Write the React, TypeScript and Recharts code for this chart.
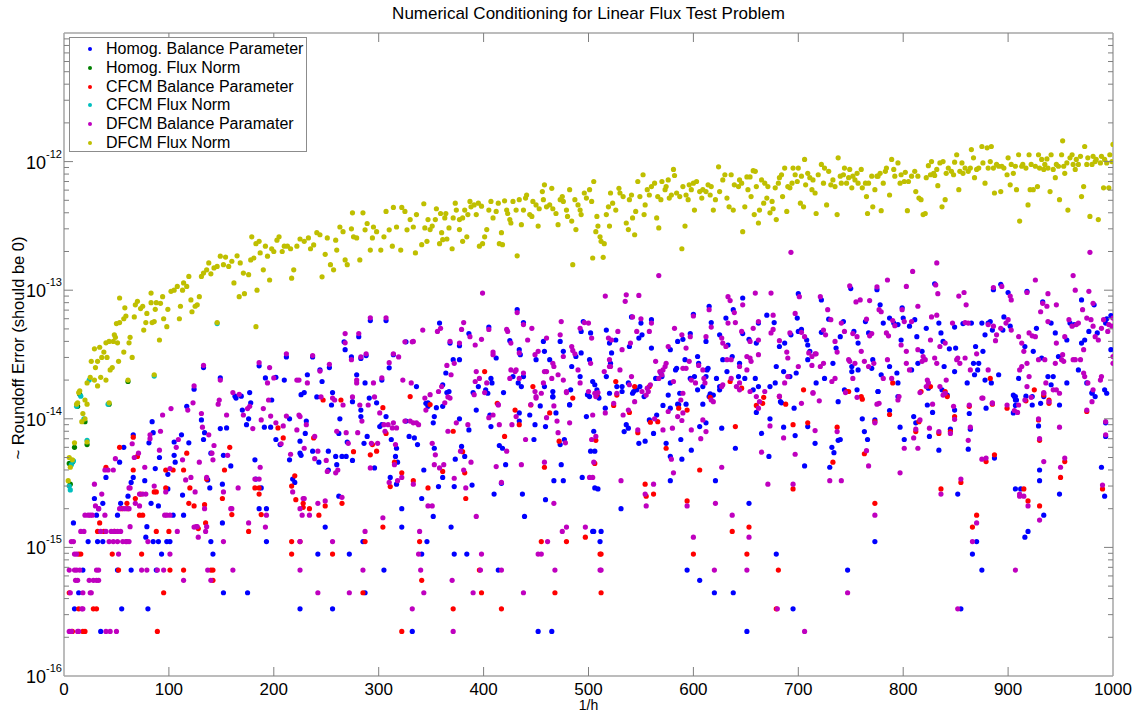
import React from 'react';
import { ScatterChart, Scatter, XAxis, YAxis } from 'recharts';

type Pt = [number, number];

// ---- Homog. balance parameter (blue) ----
const homogBalance: Pt[] = [
  [35,2.22e-16],[10,3.33e-16],[55,3.33e-16],[80,3.33e-16],[14,4.44e-16],[152,4.44e-16],[175,4.44e-16],[18,6.66e-16],[51,6.66e-16],[64,6.66e-16],[88,6.66e-16],[93,8.88e-16],[142,8.88e-16],[23,1.11e-15],[32,1.11e-15],[37,1.11e-15],[85,1.11e-15],[90,1.11e-15],[98,1.11e-15],[101,1.11e-15],[140,1.11e-15],[193,1.11e-15],[78,1.2e-15],[79,1.45e-15],[9,1.55e-15],[151,1.55e-15],[31,1.78e-15],[51,1.78e-15],[104,1.78e-15],[114,1.78e-15],[186,2e-15],[193,2e-15],[83,2.2e-15],[54,2.2e-15],[37,2.2e-15],[90,2.1e-15],
  [29,2.4e-15],[33,2e-15],[40,3.5e-15],[53,4.6e-15],[57,6e-15],[61,2.5e-15],[64,3.2e-15],[66,3.5e-15],[66,7.5e-15],[77,3.3e-15],[81,6.5e-15],[85,7.8e-15],[84,9.5e-15],[87,4.1e-15],[91,5e-15],[99,2.85e-15],[99,3.7e-15],[105,5.2e-15],[106,4.6e-15],[105,6.6e-15],[112,7.5e-15],[113,2.55e-15],[119,6.5e-15],[117,1.25e-14],[124,1.7e-14],[131,9.8e-15],[133,6.9e-15],[134,7.8e-15],[137,3.35e-15],[139,2.9e-15],[140,5.4e-15],[149,8.4e-15],[151,3.1e-15],[152,5.2e-15],[155,8.5e-15],[159,4.3e-15],[163,1.5e-14],[164,1.45e-14],[169,1.5e-14],[170,1.17e-14],[174,9e-15],[177,1.6e-14],[176,1e-14],[178,1.33e-14],[182,4.8e-15],[183,3.4e-15],[188,2.9e-15],[191,8.6e-15],[198,1.4e-14],[197,8.6e-15],[206,6.3e-15],[202,6.9e-15],[215,4.8e-15],[215,1e-14],[218,3.4e-15],[220,3.2e-15],[225,6.7e-15],[226,5.2e-15],
  [133,2.5e-14],[149,2.08e-14],[186,2.58e-14],[192,2.08e-14],[202,2.1e-14],[210,2e-14],[212,3.03e-14],[232,2.2e-14],[237,3.03e-14],[244,2.4e-14],[246,1.95e-14],[253,2.5e-14],[267,3.97e-14],[268,3.45e-14],[274,3.03e-14],[281,4.35e-14],[279,2.2e-14],[283,2.95e-14],[288,3.1e-14],[287,1.9e-14],[292,5.8e-14],[303,2e-14],[307,5.8e-14],[310,2.49e-14],[314,3.15e-14],[326,3.97e-14],
  [229,1.6e-14],[241,1.48e-14],[256,1.6e-14],[255,1.28e-14],[275,1.36e-14],[283,1.17e-14],[291,1.45e-14],[298,1.33e-14],[307,1.04e-14],[303,9e-15],[326,9.6e-15],[347,1.33e-14],[352,9.3e-15],[353,1.04e-14],[355,1.22e-14],[361,1.25e-14],[365,1.6e-14],[377,1e-14],[386,8.2e-15],[390,1.6e-14],[393,1.17e-14],[406,1.07e-14],[407,8.7e-15],[419,1.6e-14],[434,9.6e-15],[434,1.11e-14],[444,1.07e-14],[449,9e-15],[454,1.26e-14],[459,8.7e-15],[466,1.48e-14],[469,1.11e-14],[473,6.3e-15],[477,6.9e-15],[482,1.28e-14],[498,1.04e-14],[499,1.54e-14],[505,8e-15],[506,5.6e-15],
  [226,1.54e-14],[231,9.6e-15],[230,7.7e-15],[237,5.6e-15],[225,5.4e-15],[243,4.6e-15],[252,5.6e-15],[252,4e-15],[260,4.4e-15],[259,5.1e-15],[265,5.1e-15],[269,5.1e-15],[275,4.75e-15],[270,6.6e-15],[262,7.7e-15],[263,1e-14],[283,1.04e-14],[286,6.45e-15],[289,7.3e-15],[296,4.15e-15],[301,8.7e-15],[312,6.9e-15],[317,5.9e-15],[316,5.1e-15],[318,4.6e-15],[311,3.5e-15],[317,3.1e-15],[322,2e-15],[329,7.3e-15],[334,7.1e-15],[337,6.3e-15],[341,2.4e-15],[343,4e-15],[352,1.74e-15],[353,5.9e-15],[357,2.97e-15],[361,3.5e-15],[372,2.97e-15],[373,4.85e-15],[379,6.1e-15],[382,5.1e-15],[389,3.05e-15],[410,2.6e-15],[415,6.2e-15],[417,3.15e-15],[418,5.9e-15],[421,4.4e-15],[437,2.6e-15],[439,1.74e-15],[448,6.9e-15],[459,2.35e-15],[467,3.3e-15],[474,4.4e-15],[476,3.3e-15],[494,3.5e-15],[502,5.6e-15],[506,2.9e-15],[505,1.33e-15],
  [249,1.44e-15],[262,2.5e-15],[322,1.44e-15],[346,1.11e-15],[369,1.44e-15],[285,1.11e-15],[242,8.88e-16],[272,8.88e-16],[341,8.88e-16],[372,8.88e-16],[384,8.88e-16],[305,6.66e-16],[414,6.66e-16],[287,4.44e-16],[225,3.33e-16],[256,3.33e-16],[332,2.22e-16],[452,2.22e-16],[465,2.22e-16],
  [432,7.05e-14],[358,5.55e-14],[405,5.17e-14],[438,5.6e-14],[495,5.7e-14],[517,4.9e-14],[551,4.5e-14],[617,5.6e-14],[631,6.07e-14],[662,5.55e-14],[386,4.6e-14],[425,4.05e-14],[457,4e-14],[473,4e-14],[493,4.78e-14],[502,4.65e-14],[520,3.88e-14],[526,4.1e-14],[541,6.2e-14],[548,4.24e-14],[560,3.55e-14],[585,4e-14],[590,4.15e-14],[597,4.6e-14],[612,4e-14],[625,4.5e-14],[633,3.75e-14],[647,4.6e-14],[653,4.15e-14],[660,3.88e-14],[368,3.88e-14],[377,3.7e-14],[412,2.97e-14],[434,3.45e-14],[435,3.15e-14],[450,2.88e-14],[458,3.35e-14],[463,2.88e-14],[476,3.35e-14],[488,3.05e-14],[493,3.25e-14],[501,2.88e-14],[522,3.25e-14],[539,3.65e-14],[570,2.13e-14],[578,3.45e-14],[592,2.88e-14],[584,2.47e-14],[604,3.05e-14],[612,2.13e-14],[614,2.47e-14],[628,2.88e-14],[637,3.05e-14],[644,2.7e-14],[647,8.7e-14],[615,7.5e-14],[600,6.5e-14],[638,7.05e-14],[550,5.55e-14],[560,5.9e-14],
  [336,1.78e-14],[345,1.32e-14],[347,1.25e-14],[361,1.84e-14],[364,2.27e-14],[367,1.63e-14],[371,2.88e-14],[377,2.88e-14],[395,1.78e-14],[402,1.68e-14],[404,1.58e-14],[407,2.06e-14],[408,1.9e-14],[428,2.13e-14],[433,1.9e-14],[436,1.78e-14],[438,2.13e-14],[458,1.78e-14],[466,1.63e-14],[466,1.49e-14],[482,1.29e-14],[483,1.68e-14],[484,2.55e-14],[492,2.13e-14],[501,1.49e-14],[504,1.95e-14],[506,1.84e-14],[508,1.68e-14],[510,1.45e-14],[517,2.13e-14],[521,2.7e-14],[520,1.58e-14],[527,1.78e-14],[532,1.78e-14],[538,1.9e-14],[542,1.58e-14],[546,1.68e-14],[549,1.78e-14],[564,2.06e-14],[569,2.27e-14],[576,1.53e-14],[578,1.9e-14],[583,2.4e-14],[586,1.29e-14],[597,2.06e-14],[601,2.13e-14],[604,1.68e-14],[605,2.7e-14],[609,1.78e-14],[613,2.4e-14],[615,1.49e-14],[619,1.53e-14],[622,2.06e-14],[625,1.78e-14],[632,2.33e-14],[643,2.13e-14],[649,2.06e-14],[657,1.68e-14],[662,1.78e-14],
  [509,1.49e-14],[516,1.21e-14],[532,1.63e-14],[536,9e-15],[534,7.95e-15],[538,8.45e-15],[543,1.63e-14],[548,6.45e-15],[554,6.7e-15],[553,1.49e-14],[558,9.8e-15],[562,7.7e-15],[565,1.07e-14],[571,1.27e-14],[574,6.45e-15],[578,1.21e-14],[578,5.1e-15],[585,1.3e-14],[587,1.58e-14],[588,6.9e-15],[589,4.85e-15],[593,1.3e-14],[598,5.7e-15],[606,8.7e-15],[609,1.3e-14],[612,9.3e-15],[616,1.56e-14],[621,3.3e-15],[625,1.68e-14],[627,8.45e-15],[640,5.9e-15],[660,1.12e-14],[665,7.7e-15],[672,5.1e-15],[673,1e-14],[684,1.33e-14],[686,8.6e-15],[696,1.21e-14],[697,7.4e-15],[706,4.3e-15],[709,8.7e-15],[716,6.45e-15],[730,4.2e-15],[732,6e-15],[734,5.45e-15],[738,6.8e-15],[740,6.9e-15],[761,1e-14],[763,7.95e-15],[766,6.9e-15],[773,9.8e-15],[776,1.63e-14],[787,1.16e-14],
  [509,2.85e-15],[531,2e-15],[578,3.3e-15],[653,2.2e-15],[504,1.33e-15],[512,1.33e-15],[511,1.11e-15],[679,8.88e-16],[773,1.11e-15],[594,6.66e-16],[747,6.66e-16],[606,5.55e-16],[620,4.44e-16],[638,4.44e-16],[695,3.33e-16],[651,2.22e-16],
  [700,9.4e-14],[722,8.4e-14],[750,1.03e-13],[775,1.01e-13],[778,7.7e-14],[799,7.3e-14],[830,1.12e-13],[886,1.01e-13],[893,1.11e-13],[900,9.6e-14],[918,9.8e-14],[933,8.1e-14],[970,8.4e-14],[982,7.7e-14],[994,6e-14],[998,6.35e-14],
  [670,6.4e-14],[677,5.6e-14],[682,3.65e-14],[687,3.88e-14],[693,4.5e-14],[700,4.78e-14],[699,6.07e-14],[703,4.95e-14],[708,4.1e-14],[709,3.75e-14],[711,3.35e-14],[722,4.7e-14],[729,5.95e-14],[736,3.55e-14],[740,4.35e-14],[743,5.7e-14],[751,2.55e-14],[753,4.78e-14],[757,3.88e-14],[764,5.7e-14],[767,4.65e-14],[771,2.88e-14],[781,5.55e-14],[787,6.07e-14],[791,5.55e-14],[795,5.4e-14],[798,4.1e-14],[800,6.07e-14],[806,5.25e-14],[811,5.9e-14],[813,4.35e-14],[818,3.35e-14],[822,5.05e-14],[834,5.55e-14],[836,4.65e-14],[838,4e-14],[844,3.5e-14],[849,5.17e-14],[850,3.55e-14],[857,5.5e-14],[865,5.55e-14],[867,2.7e-14],[869,3.65e-14],[872,2.7e-14],[875,5.55e-14],[876,3.35e-14],[878,4.5e-14],[881,5.55e-14],[883,5.7e-14],[885,4.9e-14],[895,4.9e-14],[896,6.2e-14],[902,5.25e-14],[916,3.65e-14],[924,3.35e-14],[927,5.05e-14],[932,2.97e-14],[941,5.55e-14],[945,4.65e-14],[948,3.05e-14],[956,4.1e-14],[959,5.55e-14],[963,5.4e-14],[970,3.88e-14],[973,4.1e-14],[977,4.78e-14],[985,4.65e-14],[993,5.55e-14],[998,3.45e-14],
  [659,2.06e-14],[673,1.78e-14],[678,1.9e-14],[679,2.55e-14],[683,1.36e-14],[686,2.33e-14],[692,2.13e-14],[698,2.27e-14],[709,2.88e-14],[717,1.9e-14],[725,2.06e-14],[733,2.7e-14],[738,1.36e-14],[744,1.68e-14],[751,2.33e-14],[756,1.68e-14],[757,2.4e-14],[770,2.47e-14],[776,1.63e-14],[779,2.2e-14],[787,2.55e-14],[794,2.27e-14],[795,1.9e-14],[808,2.4e-14],[814,2.7e-14],[824,1.73e-14],[837,1.68e-14],[839,2.55e-14],[849,2.33e-14],[861,1.9e-14],[868,2.2e-14],[871,2.4e-14],[878,2e-14],[884,1.9e-14],[891,2.2e-14],[906,1.49e-14],[907,1.4e-14],[910,2.06e-14],[923,1.49e-14],[931,1.32e-14],[938,2.13e-14],[941,1.84e-14],[943,2.13e-14],[956,1.9e-14],[967,2.4e-14],[975,1.9e-14],[980,1.58e-14],[983,1.49e-14],[992,1.68e-14],
  [795,1.49e-14],[842,1.53e-14],[823,1.28e-14],[828,1.12e-14],[810,1.04e-14],[812,9.3e-15],[797,8.6e-15],[801,6.9e-15],[825,7.3e-15],[834,5.7e-15],[845,8.3e-15],[849,1.17e-14],[863,1.1e-14],[864,8.3e-15],[862,5.8e-15],[879,1.21e-14],[905,1.53e-14],[907,1.49e-14],[908,1.4e-14],[907,1.27e-14],[905,1.11e-14],[917,1.5e-14],[923,1.28e-14],[934,1.49e-14],[949,1.28e-14],[929,8.8e-15],[980,1.6e-14],[994,1.58e-14],[993,9.3e-15],[993,7.3e-15],
  [887,4.95e-15],[852,2.6e-15],[907,2.85e-15],[912,2.85e-15],[930,4e-15],[930,3.3e-15],[934,1.78e-15],[949,2.6e-15],[989,4.2e-15],[992,2.5e-15],
  [870,1.11e-15],[866,8.88e-16],[875,6.66e-16],[919,1.33e-15],[916,1.2e-15],[855,3.33e-16],
];

// ---- Homog. flux norm (green) ----
const homogFlux: Pt[] = [
  [5,4.5e-15],[6,3.1e-15],[8,4.6e-15],[10,6e-15],[13,1.25e-14],[15,1.55e-14],[20,9.5e-15],[22,6.3e-15],[43,1.3e-14],[61,1.95e-14],
];

// ---- CFCM balance parameter (red) ----
const cfcmBalance: Pt[] = [
  [40,4.2e-15],[53,6e-15],[61,2e-15],[66,4e-15],[66,7.2e-15],[70,5.1e-15],[73,2.6e-15],[68,2.4e-15],[86,2.7e-15],[88,2.7e-15],[97,2.9e-15],[97,4e-15],[104,4e-15],[114,4e-15],[117,5.4e-15],[120,2.9e-15],[128,1.4e-15],[134,2.15e-15],[136,3.4e-15],[151,2.4e-15],[153,4e-15],[158,6e-15],[160,1.8e-15],[182,2.9e-15],[186,2.9e-15],[186,2.6e-15],[188,1.8e-15],[204,8.5e-15],[209,7.1e-15],[217,3e-15],[220,3.6e-15],[221,2.35e-15],[228,2.05e-15],
  [8,2.22e-16],[18,2.22e-16],[20,2.22e-16],[89,2.22e-16],[14,3.33e-16],[28,3.33e-16],[31,3.33e-16],[5,4.44e-16],[95,4.44e-16],[142,5.55e-16],[52,6.66e-16],[101,6.66e-16],[114,6.66e-16],[140,6.66e-16],[142,6.66e-16],[14,8.88e-16],[16,8.88e-16],[46,8.88e-16],[74,8.88e-16],[217,8.88e-16],[217,1.11e-15],[32,1.33e-15],[38,1.33e-15],[48,1.33e-15],[88,1.33e-15],[100,1.33e-15],[176,1.33e-15],[72,1.78e-15],[75,1.78e-15],[55,2e-15],[124,2.1e-15],[119,2.2e-15],[135,1.55e-15],[60,2.2e-15],[34,1.55e-15],
  [247,1.4e-14],[264,1.4e-14],[304,1.22e-14],[430,1.17e-14],[434,9e-15],[445,1.28e-14],[463,1.11e-14],[472,6.7e-15],[485,1.45e-14],[507,6.8e-15],[508,1.54e-14],
  [238,7.1e-15],[276,5.55e-15],[292,5.25e-15],[294,6.3e-15],[298,5.6e-15],[307,7.7e-15],[315,4.6e-15],[322,3.8e-15],[311,2.97e-15],[333,3.3e-15],[347,2.9e-15],[361,3.9e-15],[371,8e-15],[380,5.55e-15],[382,3.8e-15],[383,2.4e-15],[420,7.3e-15],[458,4.2e-15],[506,4.5e-15],
  [228,2.2e-15],[234,2e-15],[243,1.78e-15],[249,2.1e-15],[265,2.2e-15],[304,1.44e-15],[339,1.11e-15],[225,1.11e-15],[287,1.11e-15],[256,8.88e-16],[455,1.11e-15],[479,1.11e-15],[497,1.2e-15],[511,8.88e-16],[396,6.66e-16],[341,5.55e-16],[285,4.44e-16],[398,4.44e-16],[468,4.44e-16],[371,3.33e-16],[417,3.33e-16],[322,2.22e-16],
  [330,1.49e-14],[349,1.29e-14],[401,2.33e-14],[413,1.32e-14],[447,1.78e-14],[526,1.95e-14],[544,1.78e-14],[558,1.78e-14],[586,1.21e-14],[635,1.95e-14],[646,1.73e-14],
  [524,1.27e-14],[527,1.53e-14],[539,1.12e-14],[547,7.8e-15],[559,9.4e-15],[566,9.5e-15],[574,5.9e-15],[594,1.17e-14],[606,4e-15],[616,1.47e-14],[640,8.7e-15],[660,1.27e-14],[667,1.47e-14],[688,1.3e-14],[695,9e-15],[695,2.85e-15],[705,1.68e-14],[709,9.3e-15],[733,4.6e-15],[737,8.6e-15],[748,1.63e-14],[761,1.42e-14],[763,5.35e-15],[787,1.08e-14],[773,9.5e-15],
  [554,3.1e-15],[555,2.5e-15],[562,2.6e-15],[594,2.3e-15],[637,1.33e-15],[653,1.44e-15],[512,8.88e-16],[600,8.88e-16],[651,8.88e-16],[773,2.2e-15],[681,6.66e-16],[512,4.44e-16],[679,3.33e-16],
  [666,1.32e-14],[682,1.49e-14],[746,1.63e-14],[760,1.49e-14],[790,1.9e-14],[826,1.78e-14],[842,1.49e-14],[883,2.06e-14],[925,1.68e-14],[939,1.4e-14],
  [817,1.63e-14],[840,1.63e-14],[815,9.5e-15],[812,7.95e-15],[834,7.7e-15],[845,7.95e-15],[849,1.04e-14],[863,1.25e-14],[885,1.3e-14],[899,1.21e-14],[917,1.38e-14],[934,1.53e-14],[939,1.32e-14],[929,9.8e-15],[930,6.8e-15],[975,1.14e-14],
  [855,3.2e-15],[879,4.65e-15],[887,5.25e-15],[836,2.85e-15],[915,2.85e-15],[919,2.3e-15],[930,2.1e-15],[950,3.5e-15],[954,4.65e-15],[990,2.85e-15],
  [870,1.78e-15],[866,1.44e-15],
];

// ---- CFCM flux norm (cyan) ----
const cfcmFlux: Pt[] = [
  [5,3e-15],[6,2.8e-15],[7,4.4e-15],[9,4.7e-15],[12,1.25e-14],[16,1.5e-14],[19,1e-14],[22,6.8e-15],[24,2e-14],[42,1.3e-14],[86,2.15e-14],[146,5.5e-14],
];

// ---- DFCM balance parameter (magenta) ----
const dfcmBalance: Pt[] = [
  [7,2.22e-16],[14,2.22e-16],[40,2.22e-16],[44,2.22e-16],[50,2.22e-16],[5,2.22e-16],[13,2.22e-16],[18,3.33e-16],[17,3.33e-16],[6,4.44e-16],[18,4.44e-16],[26,4.44e-16],[25,4.44e-16],[13,5.55e-16],[24,5.55e-16],[28,5.55e-16],[31,5.55e-16],[33,5.55e-16],[11,5.55e-16],[114,5.55e-16],[140,5.55e-16],[5,6.66e-16],[10,6.66e-16],[12,6.66e-16],[15,6.66e-16],[31,6.66e-16],[33,6.66e-16],[74,6.66e-16],[79,6.66e-16],[89,6.66e-16],[95,6.66e-16],[137,6.66e-16],[161,6.66e-16],[225,6.66e-16],[10,8.88e-16],[12,8.88e-16],[52,8.88e-16],[101,8.88e-16],[7,1.11e-15],[9,1.11e-15],[43,1.11e-15],[47,1.11e-15],[51,1.11e-15],[56,1.11e-15],[59,1.11e-15],[60,1.11e-15],[62,1.11e-15],[80,1.11e-15],[152,1.11e-15],[225,1.11e-15],[16,1.33e-15],[19,1.33e-15],[35,1.33e-15],[40,1.33e-15],[45,1.33e-15],[48,1.33e-15],[51,1.33e-15],[54,1.33e-15],[108,1.33e-15],[135,1.33e-15],[63,1.45e-15],[124,1.44e-15],[126,1.45e-15],[127,1.45e-15],[136,1.45e-15],[192,1.44e-15],[176,1.55e-15],[128,1.2e-15],[20,1.78e-15],[23,1.78e-15],[25,1.78e-15],[27,1.78e-15],[39,1.78e-15],[96,1.78e-15],[98,1.78e-15],[101,1.78e-15],[193,1.78e-15],[30,2.1e-15],[33,2e-15],[53,2e-15],[57,2e-15],[59,2e-15],[62,2e-15],[159,2e-15],[160,2e-15],[134,2e-15],[68,2.2e-15],
  [29,3.1e-15],[36,2.6e-15],[39,4e-15],[42,4e-15],[47,4e-15],[49,4.9e-15],[62,2.9e-15],[63,2.9e-15],[65,6.4e-15],[67,5e-15],[71,5.4e-15],[72,2.6e-15],[75,2.6e-15],[78,2.6e-15],[72,2.1e-15],[77,4.2e-15],[82,7e-15],[82,7.5e-15],[86,3e-15],[91,5.7e-15],[92,8e-15],[97,2.7e-15],[101,4.1e-15],[107,6e-15],[109,6.9e-15],[113,4.8e-15],[116,3.35e-15],[121,3.5e-15],[125,2.7e-15],[129,4.6e-15],[132,8.6e-15],[136,3.5e-15],[138,7.5e-15],[141,5.4e-15],[142,4.8e-15],[143,6.2e-15],[152,2.7e-15],[156,5.2e-15],[166,2.9e-15],[180,8.4e-15],[182,3.4e-15],[186,3.4e-15],[187,4.2e-15],[188,9.8e-15],[202,9.3e-15],[207,6.4e-15],[209,8.8e-15],[216,5.3e-15],[218,2.7e-15],[222,8.2e-15],[229,2.4e-15],
  [123,1.33e-14],[124,1.8e-14],[118,1.17e-14],[147,1.3e-14],[148,1.4e-14],[161,1.6e-14],[167,1.55e-14],[155,1.07e-14],[171,1.07e-14],[175,1.2e-14],[177,1.25e-14],[190,1.2e-14],[195,1.4e-14],[197,1.05e-14],[131,1.1e-14],[102,1.2e-14],[94,1.07e-14],[212,1.05e-14],[224,1.07e-14],
  [133,2.6e-14],[149,2e-14],[186,2.73e-14],[194,1.9e-14],[196,2.5e-14],[200,2.08e-14],[212,3.2e-14],[222,2e-14],[224,2e-14],[232,1.9e-14],[237,3.1e-14],[244,2.35e-14],[253,2.65e-14],[268,4.6e-14],[268,3.9e-14],[274,2.88e-14],[281,4.6e-14],[279,2e-14],[279,1.9e-14],[283,3.03e-14],[288,3.2e-14],[292,6.1e-14],[295,1.9e-14],[303,2.08e-14],[307,6.1e-14],[310,2.73e-14],[314,3.2e-14],[319,3.03e-14],[323,2e-14],[325,3.97e-14],[332,3.97e-14],
  [245,1.48e-14],[256,1.45e-14],[258,1.4e-14],[266,1.28e-14],[275,1.48e-14],[282,1.28e-14],[290,1.28e-14],[296,1.48e-14],[301,1.11e-14],[309,9e-15],[314,9.3e-15],[317,8.5e-15],[330,9.6e-15],[336,9.3e-15],[338,9e-15],[345,1.17e-14],[349,1.54e-14],[363,1.33e-14],[366,1.48e-14],[374,9.3e-15],[385,9e-15],[391,1.54e-14],[401,1.6e-14],[405,1.02e-14],[409,1.07e-14],[414,1.28e-14],[415,9e-15],[427,9e-15],[431,1.04e-14],[450,1.45e-14],[460,1.02e-14],[467,1.26e-14],[470,9.6e-15],[471,7.8e-15],[478,6.5e-15],[479,1.6e-14],[482,9.3e-15],[504,1.07e-14],[507,7.3e-15],[509,1.6e-14],
  [225,1.04e-14],[231,9e-15],[239,7.3e-15],[242,5.6e-15],[229,5.9e-15],[239,4.9e-15],[250,4.75e-15],[251,3.9e-15],[259,3.8e-15],[261,4e-15],[269,7.8e-15],[260,8e-15],[271,6.45e-15],[280,7.8e-15],[284,9.6e-15],[293,6.45e-15],[292,4.15e-15],[299,6.45e-15],[306,8e-15],[305,9e-15],[313,8.5e-15],[316,6.3e-15],[315,4.4e-15],[322,3.5e-15],[310,3.2e-15],[318,3.3e-15],[325,9.6e-15],[333,9.3e-15],[333,3.1e-15],[347,2.1e-15],[351,2.1e-15],[351,6.45e-15],[354,5.25e-15],[353,4.4e-15],[358,4.15e-15],[362,4.4e-15],[366,8e-15],[372,3.45e-15],[378,5.6e-15],[381,4e-15],[383,2.9e-15],[388,4.6e-15],[393,1.74e-15],[412,4.25e-15],[417,3.2e-15],[422,5.6e-15],[436,4.4e-15],[440,6.9e-15],[458,4.6e-15],[467,2.2e-15],[501,3.5e-15],[503,6.9e-15],[505,4.6e-15],
  [225,2e-15],[228,2.4e-15],[227,1.78e-15],[234,1.78e-15],[242,2.2e-15],[249,2.3e-15],[265,2.45e-15],[304,1.7e-15],[339,1.33e-15],[256,1.11e-15],[287,1.33e-15],[338,8.88e-16],[398,8.88e-16],[452,8.88e-16],[455,8.88e-16],[461,1.11e-15],[479,1.44e-15],[475,1.33e-15],[497,1.44e-15],[285,6.66e-16],[340,6.66e-16],[397,6.66e-16],[417,6.66e-16],[468,6.66e-16],[511,6.66e-16],[370,5.55e-16],[242,4.44e-16],[272,4.44e-16],[343,4.44e-16],[390,4.44e-16],[438,4.44e-16],[332,3.33e-16],[371,2.22e-16],
  [567,1.3e-13],[399,9.5e-14],[516,9e-14],[536,9.2e-14],[535,8.2e-14],[548,9.1e-14],[659,9.5e-14],[633,8.9e-14],[635,8.3e-14],[647,7.7e-14],[615,7.05e-14],[600,6.3e-14],[639,6.7e-14],[542,6.2e-14],[550,6e-14],[560,5.55e-14],[432,6.7e-14],[359,5.05e-14],[381,5.6e-14],[405,4.95e-14],[438,5.4e-14],[474,5.7e-14],[500,5.55e-14],[546,4.78e-14],[617,5.17e-14],[633,5.55e-14],[640,5.6e-14],[657,5.05e-14],[582,5.05e-14],[342,4.9e-14],[356,4.78e-14],[379,4.95e-14],[387,4.35e-14],[422,4.95e-14],[423,4.78e-14],[442,4.1e-14],[446,5.05e-14],[460,4.24e-14],[473,4.5e-14],[492,5.05e-14],[503,4.24e-14],[519,4.24e-14],[522,4.1e-14],[528,4.78e-14],[558,4.78e-14],[589,4.5e-14],[597,4.35e-14],[612,4.35e-14],[627,4.24e-14],[628,3.88e-14],[631,3.65e-14],[646,4.78e-14],[654,4e-14],[662,4.1e-14],[333,4e-14],[368,4e-14],[377,3.88e-14],[392,3.75e-14],[398,4.15e-14],[409,3.3e-14],[409,3.15e-14],[426,3.88e-14],[434,3.25e-14],[449,3.15e-14],[452,3.35e-14],[466,2.7e-14],[467,2.55e-14],[476,3.05e-14],[484,3.65e-14],[485,3.4e-14],[487,3.2e-14],[496,5.6e-14],[502,2.7e-14],[520,2.88e-14],[521,2.55e-14],[532,3.45e-14],[540,3.88e-14],[564,2.8e-14],[568,2.33e-14],[574,2.7e-14],[576,3.65e-14],[590,2.47e-14],[593,3.55e-14],[596,2.8e-14],[605,2.6e-14],[609,2.4e-14],[632,2.88e-14],[636,2.88e-14],[644,2.55e-14],[651,3.05e-14],[654,2.97e-14],[655,2.8e-14],[662,3.15e-14],
  [331,1.9e-14],[344,1.45e-14],[357,1.63e-14],[360,1.78e-14],[365,2.6e-14],[369,2.2e-14],[368,1.45e-14],[372,2.7e-14],[392,1.95e-14],[393,2.33e-14],[396,2.06e-14],[403,1.9e-14],[414,1.29e-14],[425,2.06e-14],[426,2.4e-14],[430,2.33e-14],[431,2.4e-14],[434,2.06e-14],[438,2.27e-14],[445,1.29e-14],[449,1.63e-14],[450,1.49e-14],[455,1.58e-14],[457,1.9e-14],[458,2.33e-14],[460,2.33e-14],[465,2.06e-14],[471,2.2e-14],[476,2e-14],[479,1.63e-14],[490,2.4e-14],[492,1.9e-14],[500,1.63e-14],[507,1.49e-14],[515,2.33e-14],[520,2.55e-14],[527,1.58e-14],[530,2.4e-14],[539,1.84e-14],[541,2.13e-14],[551,1.63e-14],[556,1.73e-14],[559,1.84e-14],[567,2.06e-14],[570,2.2e-14],[571,2.4e-14],[573,2.55e-14],[581,1.95e-14],[588,1.4e-14],[590,1.58e-14],[593,2.47e-14],[598,2e-14],[602,1.9e-14],[610,2.06e-14],[611,1.9e-14],[617,1.4e-14],[627,1.78e-14],[628,1.84e-14],[636,2.06e-14],[641,1.78e-14],[644,1.9e-14],[651,2.4e-14],[654,1.63e-14],
  [506,1.58e-14],[516,1.11e-14],[524,1.32e-14],[533,1.07e-14],[538,1.17e-14],[544,1.36e-14],[547,8.2e-15],[555,1.53e-14],[557,1.63e-14],[563,1e-14],[571,8.2e-15],[576,1.14e-14],[579,4.85e-15],[580,8.45e-15],[581,3.8e-15],[585,1.04e-14],[589,9.7e-15],[590,1.11e-14],[598,8.2e-15],[607,7e-15],[609,9.8e-15],[612,7.95e-15],[619,1.36e-14],[627,4.2e-15],[644,1.68e-14],[662,1.21e-14],[663,1.36e-14],[665,5.5e-15],[668,1.63e-14],[673,8.8e-15],[671,3.1e-15],[682,1.5e-14],[686,7.1e-15],[697,5.3e-15],[695,3.1e-15],[714,1.6e-14],[716,8.1e-15],[720,1.38e-14],[730,3.3e-15],[737,7.95e-15],[741,3.3e-15],[745,1.6e-14],[756,1.47e-14],[765,5.65e-15],[767,4.3e-15],[773,9.3e-15],[775,1.3e-14],
  [504,3.5e-15],[531,3.3e-15],[554,2.6e-15],[562,3.1e-15],[555,2.1e-15],[594,2.1e-15],[621,2.2e-15],[637,1.78e-15],[653,1.2e-15],[600,1.2e-15],[773,1.78e-15],[512,6.66e-16],[620,6.66e-16],[651,6.66e-16],[747,4.44e-16],[680,3.33e-16],[706,2.22e-16],
  [674,9.5e-14],[701,8.9e-14],[693,1.97e-13],[721,8.9e-14],[749,1.08e-13],[755,8.1e-14],[759,8.4e-14],[768,8.3e-14],[775,1.06e-13],[777,7.05e-14],[785,1.2e-13],[799,7.05e-14],[803,1.07e-13],[809,1.4e-13],[814,7.5e-14],[832,1.63e-13],[831,1.1e-13],[833,9.4e-14],[853,9e-14],[858,9.6e-14],[860,7.7e-14],[886,1.05e-13],[894,1.07e-13],[902,9e-14],[903,8.4e-14],[918,9.6e-14],[926,1.2e-13],[933,7.9e-14],[937,7.5e-14],[938,9.4e-14],[931,6.8e-14],[946,7.7e-14],[962,1.3e-13],[964,1e-13],[971,7.05e-14],[977,9.8e-14],[978,1.97e-13],[981,7.9e-14],[991,5.9e-14],[1000,6.07e-14],
  [662,5.7e-14],[676,6.4e-14],[674,4.65e-14],[676,4.95e-14],[682,4.05e-14],[689,3.3e-14],[690,2.97e-14],[692,4.65e-14],[697,6.6e-14],[703,4.7e-14],[706,4.35e-14],[710,3.25e-14],[716,3.2e-14],[717,3.2e-14],[713,3.05e-14],[724,4.9e-14],[726,4.5e-14],[728,7.05e-14],[731,5.9e-14],[735,4e-14],[737,3.3e-14],[741,5.55e-14],[744,4.78e-14],[748,2.88e-14],[752,4.6e-14],[756,4.35e-14],[760,3.35e-14],[765,5.95e-14],[768,4.42e-14],[770,4.6e-14],[779,6.8e-14],[784,4.65e-14],[786,4.42e-14],[790,5.8e-14],[792,5.3e-14],[798,3.75e-14],[801,5.7e-14],[803,3.35e-14],[808,5.7e-14],[814,3.45e-14],[819,3.05e-14],[821,2.88e-14],[824,1.9e-14],[826,4.1e-14],[827,6.2e-14],[832,6.4e-14],[835,3.65e-14],[840,3.88e-14],[847,5.55e-14],[852,2.97e-14],[859,5.6e-14],[862,5.55e-14],[870,3.2e-14],[881,5.4e-14],[886,5.25e-14],[888,4.05e-14],[889,4.5e-14],[893,5.05e-14],[898,5.55e-14],[900,5.9e-14],[903,4.9e-14],[910,4.35e-14],[913,3.88e-14],[915,3.35e-14],[918,2.7e-14],[920,4.65e-14],[923,4.42e-14],[926,4.35e-14],[929,2.88e-14],[935,2.88e-14],[938,5.7e-14],[946,3.88e-14],[951,2.88e-14],[952,3.15e-14],[954,4.35e-14],[958,5.9e-14],[961,5.25e-14],[965,5.4e-14],[967,5.55e-14],[969,2.88e-14],[972,3.45e-14],[975,6.07e-14],[979,5.9e-14],[981,5.25e-14],[983,4.35e-14],[986,4.1e-14],[989,5.05e-14],[995,4.78e-14],[996,5.4e-14],[999,5.25e-14],[1000,3.05e-14],
  [660,1.49e-14],[687,1.9e-14],[690,2.13e-14],[700,2.55e-14],[703,1.32e-14],[713,2.6e-14],[714,1.58e-14],[721,2.55e-14],[724,2.7e-14],[732,1.95e-14],[735,2.06e-14],[749,2.8e-14],[752,2.06e-14],[754,2.7e-14],[763,2.8e-14],[767,2.55e-14],[772,2.7e-14],[777,1.32e-14],[781,2.06e-14],[785,2.88e-14],[789,2.06e-14],[796,1.49e-14],[803,2.7e-14],[806,2.4e-14],[818,2.8e-14],[822,1.78e-14],[823,2e-14],[830,2.97e-14],[832,2.7e-14],[835,1.78e-14],[840,1.58e-14],[841,2e-14],[851,2.88e-14],[854,2.7e-14],[859,2.97e-14],[864,2.4e-14],[875,1.45e-14],[881,2.4e-14],[885,1.32e-14],[911,2.4e-14],[913,2.55e-14],[916,1.4e-14],[918,1.78e-14],[920,2.13e-14],[934,1.58e-14],[936,1.9e-14],[945,2.7e-14],[946,1.68e-14],[949,1.58e-14],[953,2.8e-14],[962,2.88e-14],[964,2.88e-14],[972,2.27e-14],[973,2.13e-14],[976,1.9e-14],[981,1.68e-14],[988,2e-14],[989,2.13e-14],[1000,2.7e-14],
  [795,1.4e-14],[816,1.6e-14],[838,1.53e-14],[828,1.3e-14],[816,9.8e-15],[801,5.9e-15],[810,7.1e-15],[812,8.3e-15],[814,5.9e-15],[825,8.45e-15],[834,7.95e-15],[845,7.7e-15],[848,1.25e-14],[849,9.9e-15],[863,1.28e-14],[864,8.6e-15],[862,6.8e-15],[876,1.45e-14],[885,1.33e-14],[899,1.28e-14],[906,1.16e-14],[910,1.28e-14],[909,1.12e-14],[922,1.47e-14],[934,1.6e-14],[939,1.36e-14],[943,1.68e-14],[929,1e-14],[930,7e-15],[949,8.6e-15],[975,1.17e-14],[980,1.36e-14],[993,9.5e-15],[993,7.5e-15],
  [797,3.8e-15],[855,3.4e-15],[875,4.85e-15],[879,4.95e-15],[836,2.6e-15],[911,2.6e-15],[911,2.5e-15],[915,2.5e-15],[919,2.1e-15],[934,4.65e-15],[930,1.63e-15],[950,4.2e-15],[954,4.95e-15],[990,3.05e-15],
  [870,1.55e-15],[866,1.11e-15],[907,6.66e-16],[852,3.33e-16],
];

// ---- DFCM flux norm (olive) ----
const dfcmFlux: Pt[] = [
  [4,3.3e-15],[5,5e-15],[6,4.2e-15],[8,4.8e-15],[10,6.5e-15],[12,1.3e-14],[13,1.33e-14],[14,1.6e-14],[15,1.65e-14],[17,9.5e-15],[18,1.1e-14],[20,1e-14],[20,1.4e-14],[22,6.6e-15],[22,1.3e-14],[22,1.9e-14],[25,2.1e-14],[26,2.8e-14],[29,2e-14],[29,3.5e-14],[30,2.5e-14],[32,1.8e-14],[32,2.8e-14],[34,3.6e-14],[35,2.1e-14],[36,3e-14],[38,3.3e-14],[40,3.9e-14],[40,2e-14],[41,3e-14],[43,1.33e-14],[43,4e-14],[44,2.4e-14],[46,2.5e-14],[47,4e-14],[48,4.5e-14],[49,4.3e-14],[50,5.5e-14],[51,3.9e-14],[52,2.8e-14],[53,5.6e-14],[53,8.7e-14],[57,6e-14],[57,3.3e-14],[58,7.3e-14],[59,6.3e-14],[61,2e-14],[62,3.9e-14],[63,4.3e-14],[65,3e-14],[86,2.2e-14],[146,5.6e-14],[183,5.2e-14],
  [67,6.2e-14],[68,7.7e-14],[70,8.2e-14],[73,7.2e-14],[75,7.5e-14],[76,4.9e-14],[78,5.6e-14],[79,6.6e-14],[83,9.5e-14],[83,8e-14],[84,5.6e-14],[86,5.7e-14],[87,7.1e-14],[88,8e-14],[91,4.1e-14],[92,7.9e-14],[94,8.9e-14],[95,6e-14],[98,5.2e-14],[99,7.1e-14],[102,9.8e-14],[105,1e-13],[108,1.07e-13],[110,6e-14],[111,7.5e-14],[113,1e-13],[114,1.14e-13],[117,1.07e-13],[119,1.28e-13],[121,8.4e-14],[122,6.8e-14],[125,7.5e-14],[127,7.7e-14],[129,8.9e-14],[131,1.28e-13],[133,1.36e-13],[136,1.44e-13],[138,1.63e-13],[140,1.34e-13],[143,1.49e-13],[146,1.53e-13],[149,1.84e-13],[154,1.81e-13],[152,1.58e-13],[157,1.53e-13],[160,1.68e-13],[162,1.14e-13],[165,1.85e-13],[168,1.63e-13],[167,8.9e-14],[172,9.4e-14],[171,1.36e-13],[176,1.32e-13],[178,1.72e-13],[179,2.6e-13],[181,1.78e-13],[183,2.3e-13],[186,2.4e-13],[184,1e-13],[187,1.95e-13],[190,1.44e-13],[192,2.2e-13],[194,1.84e-13],[196,1.2e-13],[198,2.1e-13],[200,2e-13],[203,2.45e-13],[205,2.6e-13],[208,2e-13],[210,2.2e-13],[213,2.2e-13],[216,2.1e-13],[219,1.44e-13],[217,1.24e-13],[222,2.2e-13],[225,2.5e-13],[229,2.4e-13],[233,2.55e-13],[235,2.1e-13],[238,2.25e-13],[241,2.8e-13],[244,2.7e-13],[246,1.27e-13],[249,1.9e-13],[251,2.55e-13],[254,1.58e-13],[257,1.44e-13],[259,2.45e-13],[260,2.05e-13],[263,3.1e-13],[266,2.85e-13],[268,1.72e-13],[270,1.58e-13],[275,4e-13],[274,3e-13],[276,2.6e-13],[279,2.55e-13],[282,1.72e-13],[285,4e-13],[287,2.95e-13],[289,3.3e-13],[292,2.05e-13],[294,2.55e-13],[295,3.1e-13],[298,2.85e-13],[302,2.05e-13],[305,2.6e-13],[307,4.1e-13],[310,2.95e-13],[313,2.2e-13],[314,4.4e-13],[317,3.1e-13],[321,2.05e-13],[322,4.4e-13],[325,4.1e-13],[327,2.95e-13],
  [330,3.54e-13],[333,3.1e-13],[335,1.95e-13],[336,3.87e-13],[341,2.26e-13],[343,4.7e-13],[344,3.05e-13],[346,2.4e-13],[347,3.54e-13],[349,2.96e-13],[351,3.15e-13],[354,3.54e-13],[355,4.3e-13],[358,2.3e-13],[359,3.95e-13],[360,2.8e-13],[361,2.47e-13],[363,3.65e-13],[364,3.95e-13],[365,2.5e-13],[367,3.05e-13],[370,2.1e-13],[371,3.65e-13],[373,4.75e-13],[374,4.2e-13],[377,3.54e-13],[377,2.96e-13],[380,3.65e-13],[380,2.4e-13],[382,4.2e-13],[384,2.6e-13],[385,3.87e-13],[387,4.9e-13],[388,4.45e-13],[391,4.6e-13],[393,3.87e-13],[395,4.75e-13],[396,2.2e-13],[398,4.5e-13],[399,2.3e-13],[401,2.6e-13],[403,2.96e-13],[405,4.2e-13],[407,4.9e-13],[409,3.65e-13],[412,4.1e-13],[414,4.75e-13],[415,2.3e-13],[417,2.8e-13],[418,2.26e-13],[420,4.95e-13],[422,4.2e-13],[423,3.95e-13],[425,3.54e-13],[426,3.33e-13],[428,4.9e-13],[431,4.2e-13],[432,1.85e-13],[434,5.06e-13],[436,3.23e-13],[438,4.2e-13],[440,5.2e-13],[441,5.5e-13],[444,3.87e-13],[446,3.75e-13],[447,4.9e-13],[450,4.6e-13],[452,3.15e-13],[453,4.3e-13],[456,5.85e-13],[457,5.06e-13],[458,6.6e-13],[460,4.45e-13],[463,4.6e-13],[465,6.2e-13],[466,4.3e-13],[469,3.95e-13],[471,3.23e-13],[473,5.06e-13],[475,5.35e-13],[476,4.9e-13],[479,4.2e-13],[480,3.75e-13],[482,6.05e-13],[484,3.45e-13],[485,1.58e-13],[487,5.06e-13],[488,2.96e-13],[490,4.6e-13],[492,4.2e-13],[493,3.87e-13],[496,5.7e-13],[498,5.2e-13],[501,6.05e-13],[503,4.9e-13],[504,1.78e-13],[505,7e-13],[507,2.85e-13],[508,3.75e-13],[509,3.15e-13],[511,2.6e-13],[512,2.4e-13],[514,1.8e-13],[515,2.3e-13],[517,3.87e-13],[519,4.45e-13],[520,3.15e-13],[521,5.7e-13],[523,4.75e-13],[526,4.2e-13],[529,6.2e-13],[530,5.7e-13],[533,5.35e-13],[536,3.33e-13],[538,2.96e-13],[539,5.06e-13],[541,5.5e-13],[542,3.65e-13],[544,2.7e-13],[545,4.1e-13],[547,7e-13],[549,5.35e-13],[552,7.9e-13],[553,3.87e-13],[554,4.6e-13],[556,6.05e-13],[558,5.5e-13],[560,6.4e-13],[563,6.8e-13],[565,3.65e-13],[566,5.35e-13],[567,3.05e-13],[569,5.06e-13],[570,7e-13],[573,6.05e-13],[574,6.4e-13],[576,7.2e-13],[577,5.2e-13],[579,5.5e-13],[581,8.7e-13],[582,7.8e-13],[584,5.7e-13],[587,5.35e-13],[589,2.1e-13],[590,6.4e-13],[592,3.15e-13],[593,5.5e-13],[595,5.06e-13],[596,6.6e-13],[598,6.05e-13],[600,6.8e-13],[601,4.2e-13],[603,7e-13],[606,5.85e-13],[608,5.2e-13],[609,6.05e-13],[612,5.85e-13],[614,6.6e-13],[616,5.5e-13],[617,6.4e-13],[619,4.2e-13],[621,5.06e-13],[624,9.1e-13],[625,5.85e-13],[628,7.2e-13],[630,7.9e-13],[632,5.2e-13],[634,4.45e-13],[636,7.9e-13],[638,4.2e-13],[639,6.6e-13],[643,6.4e-13],[644,7.2e-13],[646,6.8e-13],[647,2.85e-13],[649,4.45e-13],[651,7.6e-13],[652,6.05e-13],[654,7.6e-13],[655,5.35e-13],[657,8.5e-13],[658,3.87e-13],
  [659,8.4e-13],[660,6.4e-13],[662,3.33e-13],[663,4.2e-13],[665,7.2e-13],[667,4.75e-13],[668,6.8e-13],[670,5.2e-13],[671,6.4e-13],[673,4e-13],[675,4.9e-13],[676,4.3e-13],[678,6.25e-13],[679,3.54e-13],[681,6.8e-13],[682,7.5e-13],[684,7.9e-13],[685,5.35e-13],[687,8.9e-13],[689,4.1e-13],[690,6.4e-13],[692,6.25e-13],[694,6.8e-13],[695,8.9e-13],[697,7.9e-13],[699,7e-13],[700,8.9e-13],[702,4.75e-13],[703,7.7e-13],[705,4.45e-13],[706,1.04e-12],[707,6.6e-13],[709,8.1e-13],[711,7.5e-13],[713,6.05e-13],[714,7.2e-13],[716,5.7e-13],[717,3.95e-13],[719,7.9e-13],[722,9.5e-13],[724,6.8e-13],[725,8.9e-13],[727,4.6e-13],[729,8.4e-13],[731,6.6e-13],[733,7.2e-13],[735,6.4e-13],[737,3.87e-13],[738,1.07e-12],[740,7.7e-13],[741,6.8e-13],[743,7.9e-13],[744,8.9e-13],[746,6.8e-13],[748,7.5e-13],[749,8.7e-13],[751,6.25e-13],[752,7.7e-13],[754,7.2e-13],[756,8.1e-13],[757,6.8e-13],[760,8.7e-13],[761,6.25e-13],[764,6.8e-13],[765,5.35e-13],[766,3.95e-13],[767,6.8e-13],[770,7.7e-13],[771,4.45e-13],[773,6.05e-13],[775,7.7e-13],[776,7.7e-13],[778,8.1e-13],[779,4.15e-13],[781,6.8e-13],[783,8.4e-13],[784,8.9e-13],[787,5.5e-13],[789,1.04e-12],[791,8.7e-13],[792,7.7e-13],[795,9.77e-13],[797,6.8e-13],[798,7.9e-13],[801,7e-13],[802,8.25e-13],[804,4.15e-13],[805,7e-13],[808,7.7e-13],[811,8.4e-13],[812,5.85e-13],[814,7.7e-13],[815,5.2e-13],[817,5.06e-13],[819,3.87e-13],[821,3.95e-13],[822,7.5e-13],[824,9.3e-13],[826,7.9e-13],[827,1e-12],[829,8.1e-13],[830,7.8e-13],[832,8.7e-13],[833,6.5e-13],[835,9.77e-13],[837,4.45e-13],[838,1e-12],[840,5.06e-13],[841,8.1e-13],[843,8.9e-13],[846,8.4e-13],[848,7.9e-13],[849,9.9e-13],[851,1.13e-12],[853,6.05e-13],[854,8.4e-13],[856,9.77e-13],[857,8.1e-13],[859,8.9e-13],[862,8.4e-13],[864,8.9e-13],[865,1.24e-12],[867,1.07e-12],[868,7.5e-13],[870,8.7e-13],[872,8.9e-13],[875,1.31e-12],[876,9.77e-13],[878,6.8e-13],[880,1.28e-12],[881,8.9e-13],[883,1e-12],[884,1.31e-12],[886,8.9e-13],[887,5.7e-13],[889,9.5e-13],[891,9.2e-13],[893,5.85e-13],[894,9.2e-13],[896,8.9e-13],[899,7.9e-13],[900,1.07e-12],[902,6.6e-13],[903,9.5e-13],[905,8.1e-13],[907,9.2e-13],[908,6.05e-13],[910,1.13e-12],[911,3.45e-13],[913,9.2e-13],[914,9.5e-13],[917,8.9e-13],[919,4.6e-13],[920,1.13e-12],[921,6.05e-13],[922,9.5e-13],[924,6.05e-13],[926,9.2e-13],[928,6.4e-13],[929,1.13e-12],[930,8.9e-13],[932,1.04e-12],[934,8.7e-13],[935,9.5e-13],[937,1.05e-12],[938,8.9e-13],[940,5.85e-13],[941,1.13e-12],[943,8.7e-13],[945,7.5e-13],[946,9.5e-13],[948,9.2e-13],[949,5.06e-13],[951,1.13e-12],[952,1.45e-12],[953,9.2e-13],[954,8.1e-13],[956,9.77e-13],[957,4.2e-13],[959,1.07e-12],[961,1.13e-12],[962,9.5e-13],[964,8.7e-13],[965,1.04e-12],[967,9.5e-13],[969,1.1e-12],[970,5.35e-13],[972,6.4e-13],[973,1.31e-12],[975,9.5e-13],[976,1.07e-12],[978,3.75e-13],[980,9.5e-13],[981,1.1e-12],[983,1e-12],[984,1.04e-12],[986,3.54e-13],[988,9.77e-13],[989,1.1e-12],[991,6.25e-13],[992,1.04e-12],[994,9.77e-13],[996,6.25e-13],[997,1.13e-12],[999,1e-12],[1000,1.36e-12],
];

const X_TICKS = [0, 100, 200, 300, 400, 500, 600, 700, 800, 900, 1000];
const Y_DECADES = [-16, -15, -14, -13, -12];
const Y_MINOR_MANTISSAS = [2, 3, 4, 5, 6, 7, 8, 9];
const Y_TOP = 1e-11;
const Y_BOTTOM = 1e-16;

const yTicks: number[] = [];
Y_DECADES.forEach((d) => {
  const base = Math.pow(10, d);
  yTicks.push(base);
  Y_MINOR_MANTISSAS.forEach((m) => yTicks.push(m * base));
});
yTicks.push(Y_TOP);

const FONT = '"Liberation Sans", Arial, Helvetica, sans-serif';
const FRAME = '#a6a6a6';
const TICK = '#7f7f7f';

const SERIES = [
  { name: 'Homog. Balance Parameter', color: '#0000ff', data: homogBalance },
  { name: 'Homog. Flux Norm', color: '#008000', data: homogFlux },
  { name: 'CFCM Balance Parameter', color: '#ff0000', data: cfcmBalance },
  { name: 'CFCM Flux Norm', color: '#00bfbf', data: cfcmFlux },
  { name: 'DFCM Balance Paramater', color: '#bf00bf', data: dfcmBalance },
  { name: 'DFCM Flux Norm', color: '#bfbf00', data: dfcmFlux },
];

const decadeOf = (v: number) => Math.log10(v);
const isDecade = (v: number) => {
  const e = decadeOf(v);
  return Math.abs(e - Math.round(e)) < 1e-6;
};

const BottomTick = (p: any) => {
  const { x, y, payload } = p;
  const v = payload.value as number;
  const inner = v > 0 && v < 1000;
  return (
    <g>
      {inner && <line x1={x} x2={x} y1={y} y2={y - 9} stroke={TICK} strokeWidth={1} />}
      <text x={x} y={y + 19} textAnchor="middle" fontSize={17} fontFamily={FONT} fill="#000">
        {v}
      </text>
    </g>
  );
};

const TopTick = (p: any) => {
  const { x, y, payload } = p;
  const v = payload.value as number;
  if (!(v > 0 && v < 1000)) return <g />;
  return <line x1={x} x2={x} y1={y} y2={y + 9} stroke={TICK} strokeWidth={1} />;
};

const LeftTick = (p: any) => {
  const { x, y, payload } = p;
  const v = payload.value as number;
  const major = isDecade(v);
  const exp = Math.round(decadeOf(v));
  const edge = v >= Y_TOP * 0.999 || v <= Y_BOTTOM * 1.001;
  return (
    <g>
      {!edge && <line x1={x} x2={x + (major ? 9 : 5)} y1={y} y2={y} stroke={TICK} strokeWidth={1} />}
      {major && exp <= -12 && (
        <text x={x - 2} y={y + 7} textAnchor="end" fontSize={18} fontFamily={FONT} fill="#000">
          10
          <tspan dy={-11} fontSize={11}>
            {String(exp)}
          </tspan>
        </text>
      )}
    </g>
  );
};

const RightTick = (p: any) => {
  const { x, y, payload } = p;
  const v = payload.value as number;
  const major = isDecade(v);
  const edge = v >= Y_TOP * 0.999 || v <= Y_BOTTOM * 1.001;
  if (edge) return <g />;
  return <line x1={x} x2={x - (major ? 9 : 5)} y1={y} y2={y} stroke={TICK} strokeWidth={1} />;
};

const dot = (color: string) => (p: any) =>
  <circle cx={p.cx} cy={p.cy} r={2.6} fill={color} stroke="none" />;

export default function App() {
  return (
    <div
      style={{
        position: 'absolute',
        left: 0,
        top: 0,
        width: 1137,
        height: 712,
        background: '#ffffff',
        fontFamily: FONT,
        overflow: 'hidden',
      }}
    >
      <ScatterChart width={1137} height={712} margin={{ top: 0, right: 0, bottom: 0, left: 0 }}>
        <XAxis
          xAxisId="bottom"
          dataKey="x"
          type="number"
          domain={[0, 1000]}
          ticks={X_TICKS}
          interval={0}
          height={36}
          tickSize={0}
          tickMargin={0}
          tickLine={false}
          axisLine={{ stroke: FRAME, strokeWidth: 1.5 }}
          tick={BottomTick}
          allowDataOverflow
        />
        <XAxis
          xAxisId="top"
          orientation="top"
          dataKey="x"
          type="number"
          domain={[0, 1000]}
          ticks={X_TICKS}
          interval={0}
          height={33}
          tickSize={0}
          tickMargin={0}
          tickLine={false}
          axisLine={{ stroke: FRAME, strokeWidth: 1.5 }}
          tick={TopTick}
          allowDataOverflow
        />
        <YAxis
          yAxisId="left"
          dataKey="y"
          type="number"
          scale="log"
          domain={[Y_BOTTOM, Y_TOP]}
          ticks={yTicks}
          interval={0}
          width={64}
          tickSize={0}
          tickMargin={0}
          tickLine={false}
          axisLine={{ stroke: FRAME, strokeWidth: 1.5 }}
          tick={LeftTick}
          allowDataOverflow
        />
        <YAxis
          yAxisId="right"
          orientation="right"
          dataKey="y"
          type="number"
          scale="log"
          domain={[Y_BOTTOM, Y_TOP]}
          ticks={yTicks}
          interval={0}
          width={24}
          tickSize={0}
          tickMargin={0}
          tickLine={false}
          axisLine={{ stroke: FRAME, strokeWidth: 1.5 }}
          tick={RightTick}
          allowDataOverflow
        />
        {SERIES.map((s) => (
          <Scatter
            key={s.name}
            name={s.name}
            xAxisId="bottom"
            yAxisId="left"
            data={s.data.map(([x, y]) => ({ x, y }))}
            fill={s.color}
            shape={dot(s.color)}
            isAnimationActive={false}
          />
        ))}
      </ScatterChart>

      <div
        style={{
          position: 'absolute',
          left: 64,
          width: 1049,
          top: 4,
          textAlign: 'center',
          fontSize: 17,
          lineHeight: '20px',
          color: '#000',
        }}
      >
        Numerical Conditioning for Linear Flux Test Problem
      </div>

      <div
        style={{
          position: 'absolute',
          left: 64,
          width: 1049,
          top: 698,
          textAlign: 'center',
          fontSize: 14,
          lineHeight: '14px',
          color: '#000',
        }}
      >
        1/h
      </div>

      <div
        style={{
          position: 'absolute',
          left: 18,
          top: 348,
          width: 0,
          height: 0,
        }}
      >
        <div
          style={{
            position: 'absolute',
            transform: 'translate(-50%, -50%) rotate(-90deg)',
            whiteSpace: 'nowrap',
            fontSize: 16.5,
            lineHeight: '18px',
            color: '#000',
          }}
        >
          ~ Roundoff Error (should be 0)
        </div>
      </div>

      <div
        style={{
          position: 'absolute',
          left: 69,
          top: 37,
          width: 238,
          height: 115,
          border: '1px solid #8c8c8c',
          background: '#ffffff',
          boxSizing: 'border-box',
        }}
      >
        {SERIES.map((s, i) => (
          <div
            key={s.name}
            style={{
              position: 'absolute',
              left: 0,
              top: 11 + i * 18.8 - 9,
              height: 18,
              width: '100%',
            }}
          >
            <span
              style={{
                position: 'absolute',
                left: 18,
                top: 7,
                width: 4,
                height: 4,
                borderRadius: '50%',
                background: s.color,
              }}
            />
            <span
              style={{
                position: 'absolute',
                left: 36,
                top: 0,
                fontSize: 16,
                lineHeight: '18px',
                whiteSpace: 'nowrap',
                color: '#000',
              }}
            >
              {s.name}
            </span>
          </div>
        ))}
      </div>
    </div>
  );
}
